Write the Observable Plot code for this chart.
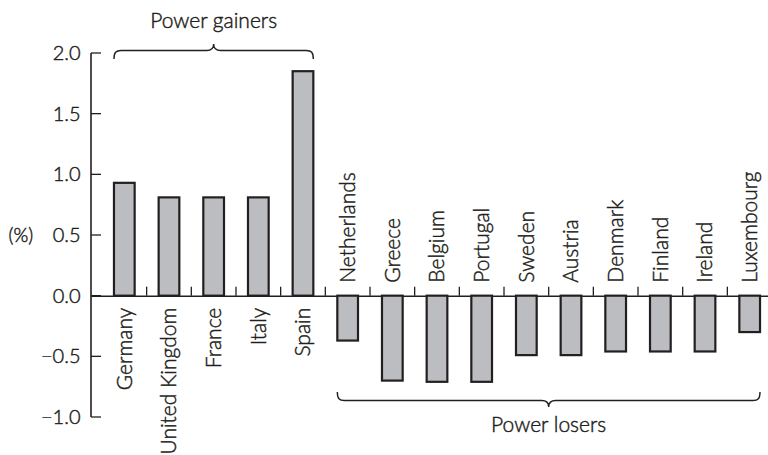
<!DOCTYPE html>
<html><head><meta charset="utf-8">
<script src="https://cdn.jsdelivr.net/npm/d3@7"></script>
<script src="https://cdn.jsdelivr.net/npm/@observablehq/plot@0.6"></script>
<style>
html,body{margin:0;padding:0;background:#fff;}
#chart svg{display:block;}
#chart svg text{stroke:#231f20;stroke-width:0.45px;}
</style></head><body><div id="chart"></div>
<script>
const countries = ["Germany","United Kingdom","France","Italy","Spain","Netherlands","Greece","Belgium","Portugal","Sweden","Austria","Denmark","Finland","Ireland","Luxembourg"];
const changes = [0.93,0.81,0.81,0.81,1.85,-0.37,-0.70,-0.71,-0.71,-0.49,-0.49,-0.46,-0.46,-0.46,-0.30];
const yTicks = [-1.0,-0.5,0.0,0.5,1.0,1.5,2.0];
const groupLabels = ["Power gainers","Power losers"];
const groupFirst = ["Germany","Netherlands"];
const groupLast = ["Spain","Luxembourg"];
const unitLabel = "(%)";

const data = countries.map((c,i)=>({country:c, value:changes[i]}));
const groups = groupLabels.map((g,i)=>({label:g, first:groupFirst[i], last:groupLast[i],
  sign: Math.sign(changes[countries.indexOf(groupFirst[i])])}));

const ink = "#231f20";
const FONT = "Lato, 'Open Sans', sans-serif";
const WEIGHT = 300;

function decorations(index, scales, values, dimensions) {
  const x = scales.x, y = scales.y;
  const desc = scales.scales || {};
  const bw = x.bandwidth ? x.bandwidth() : desc.x.bandwidth;
  const step = x.step ? x.step() : desc.x.step;
  const [ymin, ymax] = d3.extent(yTicks);
  const ml = dimensions.marginLeft;
  const g = d3.create("svg:g").attr("fill","none").attr("stroke", ink);
  g.append("line").attr("x1", ml).attr("x2", ml).attr("y1", y(ymax)).attr("y2", y(ymin)).attr("stroke-width", 1.6);
  for (const t of yTicks) {
    g.append("line").attr("x1", ml).attr("x2", ml + 10).attr("y1", y(t)).attr("y2", y(t)).attr("stroke-width", 1.3);
  }
  const y0 = y(0);
  countries.slice(1).forEach(c => {
    const bx = x(c) - (step - bw) / 2;
    g.append("line").attr("x1", bx).attr("x2", bx).attr("y1", y0).attr("y2", y0 - 9).attr("stroke-width", 1.3);
  });
  for (const gr of groups) {
    const x1 = x(gr.first), x2 = x(gr.last) + bw, xm = (x1 + x2) / 2;
    const up = gr.sign > 0;
    const yb = up ? y(ymax) - 2.5 : y(ymin) - 16.5;
    const s = up ? 1 : -1;
    const e = 8.5, pk = 6.5, r = 7;
    const d = `M${x1},${yb + s*e} C${x1},${yb + s*2} ${x1+2},${yb} ${x1+r},${yb}`
      + ` L${xm-7},${yb} C${xm-2.5},${yb} ${xm},${yb - s*1.5} ${xm},${yb - s*pk}`
      + ` C${xm},${yb - s*1.5} ${xm+2.5},${yb} ${xm+7},${yb}`
      + ` L${x2-r},${yb} C${x2-2},${yb} ${x2},${yb + s*2} ${x2},${yb + s*e}`;
    g.append("path").attr("d", d).attr("stroke-width", 1.4);
    g.append("text").attr("x", xm).attr("y", up ? yb - 22.5 : yb + 31)
      .attr("text-anchor", "middle").attr("fill", ink)
      .attr("font-family", FONT).attr("font-weight", WEIGHT).attr("font-size", 21).text(gr.label);
  }
  return g.node();
}

const chart = Plot.plot({
  width: 768,
  height: 455,
  marginLeft: 91,
  marginRight: 0,
  marginTop: 53,
  marginBottom: 38,
  style: {fontFamily: FONT, fontSize: "20px", fontWeight: WEIGHT, color: ink, background: "#fff"},
  x: {domain: countries, range: [102, 772], paddingInner: 0.537, paddingOuter: 0.268, round: false, axis: null},
  y: {domain: [-1, 2]},
  marks: [
    Plot.ruleY([0], {stroke: ink, strokeWidth: 1.5}),
    Plot.barY(data, {x: "country", y: "value", fill: "#bcbdc0", stroke: ink, strokeWidth: 2.2}),
    Plot.axisY(yTicks, {tickSize: 0, tickPadding: 11, tickFormat: d3.format(".1f"), label: null, fontSize: 20}),
    Plot.text(data.filter(d => d.value >= 0), {x: "country", y: () => 0, text: "country", rotate: -90, textAnchor: "end", dy: 11.5, fontSize: 21, fill: ink}),
    Plot.text(data.filter(d => d.value < 0), {x: "country", y: () => 0, text: "country", rotate: -90, textAnchor: "start", dy: -13.5, fontSize: 21, fill: ink}),
    Plot.text([unitLabel], {frameAnchor: "left", y: () => 0.5, text: d => d, textAnchor: "start", dx: -83, fontSize: 19, fill: ink}),
    decorations
  ]
});
document.getElementById("chart").append(chart);
</script></body></html>
